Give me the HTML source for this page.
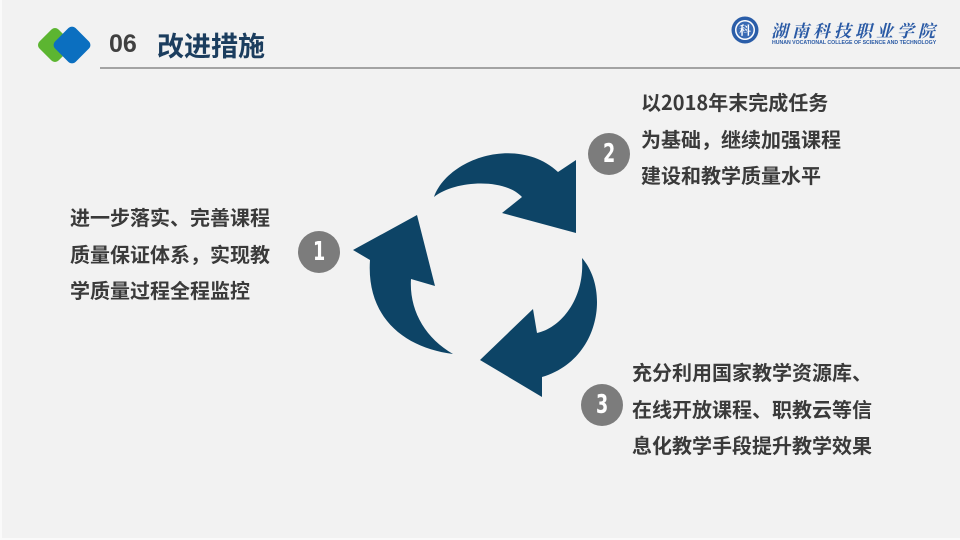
<!DOCTYPE html>
<html><head><meta charset="utf-8">
<style>
html,body{margin:0;padding:0;}
body{width:960px;height:540px;position:relative;overflow:hidden;background:#f2f2f2;font-family:"Liberation Sans","Noto Sans CJK SC",sans-serif;}
.frame{position:absolute;left:0;top:0;width:958px;height:538px;border-left:2px solid #fafafa;border-bottom:2px solid #fafafa;}
.t{position:absolute;font-family:"Noto Sans CJK SC","WenQuanYi Zen Hei",sans-serif;font-weight:bold;font-size:20px;line-height:36.5px;color:#3a3a3a;white-space:nowrap;}
.num{position:absolute;width:42px;height:42px;border-radius:50%;background:#7c7c7c;color:#fff;text-align:center;line-height:42px;font-family:"Liberation Sans Narrow","DejaVu Sans Condensed","Liberation Sans",sans-serif;font-weight:bold;font-size:26px;}
.num span{display:inline-block;transform:scaleX(0.75);}
</style></head>
<body>
<div class="frame"></div>
<svg width="960" height="540" style="position:absolute;left:0;top:0">
  <!-- header diamonds -->
  <rect x="41.5" y="31.5" width="27" height="27" rx="5" fill="#5cb531" transform="rotate(45 55 45)"/>
  <rect x="57.5" y="30.5" width="29" height="29" rx="5" fill="#0b6fc0" transform="rotate(45 72 45)"/>
  <!-- header line -->
  <rect x="100" y="67" width="860" height="2" fill="#a3a3a3"/>
  <!-- emblem -->
  <circle cx="745" cy="30" r="13.5" fill="#2a5da8"/>
  <circle cx="745" cy="30" r="10" fill="#ffffff"/>
  <circle cx="745" cy="30" r="8.5" fill="#3a6bb4"/>
  <text x="745" y="34.5" text-anchor="middle" font-family="Noto Serif CJK SC, serif" font-size="12" font-weight="bold" fill="#ffffff">科</text>
  <!-- arrows -->
  <g fill="#0d4466">
    <path d="M434,197 C448,158 518,135 558,172 L576,160 L576,233 L502,213 L522,197 C505,178 455,180 434,197 Z"/>
    <path d="M353,250 L417,215 L435,286 L411,279 C409,310 425,338 453,354 C405,348 366,318 370,260 Z"/>
    <path d="M582,258 C610,290 600,360 542,377 L542,397 L480,360 L533,309 L537,333 C560,328 585,300 582,258 Z"/>
  </g>
</svg>
<!-- header title -->
<div style="position:absolute;left:109px;top:27px;font-size:25px;font-weight:bold;color:#404040;font-family:'Liberation Sans',sans-serif;line-height:34px;">06</div>
<div style="position:absolute;left:157px;top:27px;font-size:27px;font-weight:bold;color:#1b3d5e;font-family:'Noto Sans CJK SC',sans-serif;line-height:36px;">改进措施</div>
<!-- logo text -->
<div style="position:absolute;left:771px;top:20px;font-family:'Noto Serif CJK SC',serif;font-weight:bold;font-style:italic;font-size:17px;letter-spacing:4px;color:#2a5aa5;line-height:20px;white-space:nowrap;">湖南科技职业学院</div>
<div style="position:absolute;left:772px;top:40px;font-family:'Liberation Sans',sans-serif;font-size:5.2px;color:#2a5aa5;white-space:nowrap;line-height:6px;font-weight:bold;">HUNAN VOCATIONAL COLLEGE OF SCIENCE AND TECHNOLOGY</div>

<!-- number circles -->
<div class="num" style="left:298px;top:231px;"><span>1</span></div>
<div class="num" style="left:588px;top:133px;"><span>2</span></div>
<div class="num" style="left:581px;top:384px;"><span>3</span></div>

<!-- texts -->
<div class="t" style="left:70px;top:199px;">进一步落实、完善课程<br>质量保证体系，实现教<br>学质量过程全程监控</div>
<div class="t" style="left:641px;top:84px;">以2018年末完成任务<br>为基础，继续加强课程<br>建设和教学质量水平</div>
<div class="t" style="left:632px;top:354px;">充分利用国家教学资源库、<br>在线开放课程、职教云等信<br>息化教学手段提升教学效果</div>
</body></html>
